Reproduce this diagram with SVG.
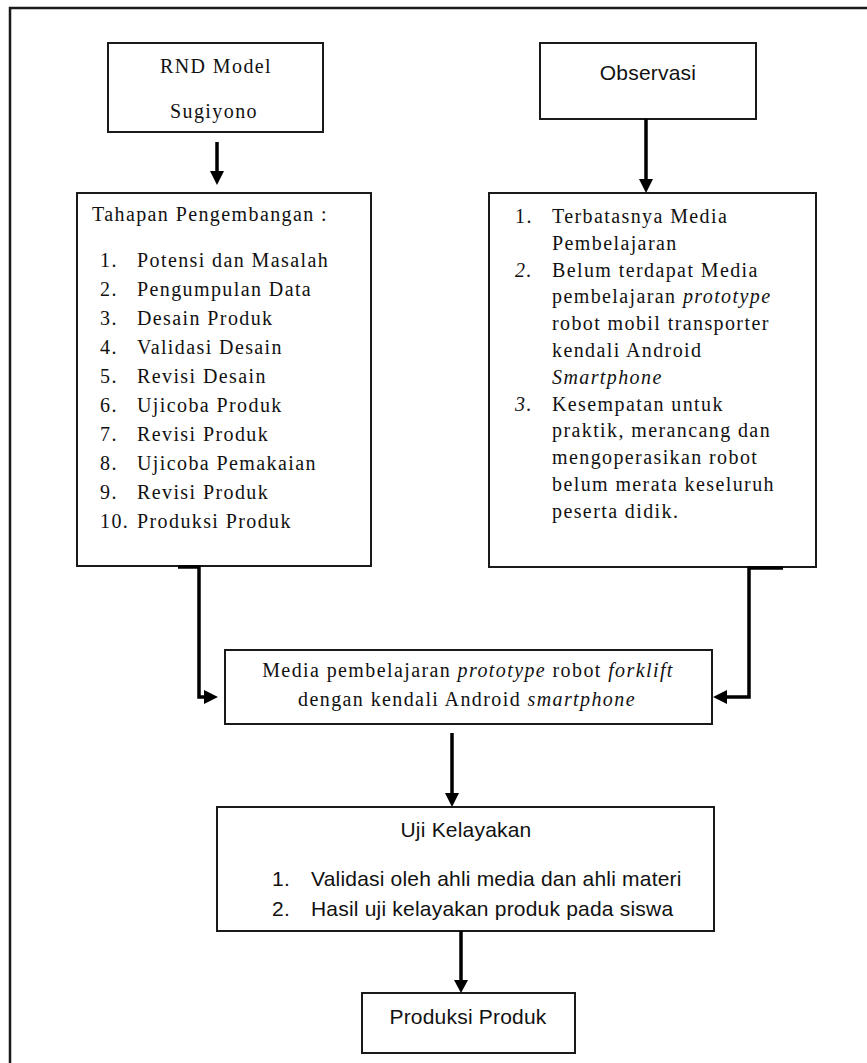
<svg xmlns="http://www.w3.org/2000/svg" width="867" height="1063" viewBox="0 0 867 1063">
<style>
.box{fill:#fff;stroke:#1a1a1a;stroke-width:2}
.frame{fill:none;stroke:#1a1a1a;stroke-width:2.5}
.ser{font-family:"Liberation Serif","Times New Roman",serif;font-size:20px;letter-spacing:1.4px;fill:#111}
.san{font-family:"Liberation Sans",Arial,sans-serif;font-size:21px;letter-spacing:0.2px;fill:#111}
.mid{text-anchor:middle}
.it{font-style:italic}
.ln{fill:none;stroke:#000;stroke-width:3.5}
.ah{fill:#000}
</style>
<path class="frame" d="M10,1063 V8 H867"/>
<g id="rnd">
<rect class="box" x="108" y="43" width="215" height="89"/>
<text class="ser mid" x="216" y="73">RND Model</text>
<text class="ser mid" x="214" y="118">Sugiyono</text>
</g>
<g id="observasi">
<rect class="box" x="540" y="43" width="216" height="76"/>
<text class="san mid" x="648" y="80">Observasi</text>
</g>
<g id="tahapan">
<rect class="box" x="77" y="193" width="294" height="373"/>
<text class="ser" x="92" y="221">Tahapan Pengembangan :</text>
<text class="ser" x="100" y="267">1.</text><text class="ser" x="137" y="267">Potensi dan Masalah</text>
<text class="ser" x="100" y="296">2.</text><text class="ser" x="137" y="296">Pengumpulan Data</text>
<text class="ser" x="100" y="325">3.</text><text class="ser" x="137" y="325">Desain Produk</text>
<text class="ser" x="100" y="354">4.</text><text class="ser" x="137" y="354">Validasi Desain</text>
<text class="ser" x="100" y="383">5.</text><text class="ser" x="137" y="383">Revisi Desain</text>
<text class="ser" x="100" y="412">6.</text><text class="ser" x="137" y="412">Ujicoba Produk</text>
<text class="ser" x="100" y="441">7.</text><text class="ser" x="137" y="441">Revisi Produk</text>
<text class="ser" x="100" y="470">8.</text><text class="ser" x="137" y="470">Ujicoba Pemakaian</text>
<text class="ser" x="100" y="499">9.</text><text class="ser" x="137" y="499">Revisi Produk</text>
<text class="ser" x="100" y="528">10.</text><text class="ser" x="137" y="528">Produksi Produk</text>
</g>
<g id="masalah">
<rect class="box" x="489" y="193" width="327" height="374"/>
<text class="ser" x="515" y="223">1.</text><text class="ser" x="552" y="223">Terbatasnya Media</text>
<text class="ser" x="552" y="250">Pembelajaran</text>
<text class="ser it" x="515" y="277">2.</text><text class="ser" x="552" y="277">Belum terdapat Media</text>
<text class="ser" x="552" y="303">pembelajaran <tspan class="it">prototype</tspan></text>
<text class="ser" x="552" y="330">robot mobil transporter</text>
<text class="ser" x="552" y="357">kendali Android</text>
<text class="ser it" x="552" y="384">Smartphone</text>
<text class="ser it" x="515" y="411">3.</text><text class="ser" x="552" y="411">Kesempatan untuk</text>
<text class="ser" x="552" y="437">praktik, merancang dan</text>
<text class="ser" x="552" y="464">mengoperasikan robot</text>
<text class="ser" x="552" y="491">belum merata keseluruh</text>
<text class="ser" x="552" y="518">peserta didik.</text>
</g>
<g id="media">
<rect class="box" x="225" y="650" width="487" height="74"/>
<text class="ser mid" x="468" y="677">Media pembelajaran <tspan class="it">prototype</tspan> robot <tspan class="it">forklift</tspan></text>
<text class="ser mid" x="467" y="706">dengan kendali Android <tspan class="it">smartphone</tspan></text>
</g>
<g id="uji">
<rect class="box" x="217" y="807" width="497" height="124"/>
<text class="san mid" x="466" y="837">Uji Kelayakan</text>
<text class="san" x="272" y="886">1.</text><text class="san" x="311" y="886">Validasi oleh ahli media dan ahli materi</text>
<text class="san" x="272" y="916">2.</text><text class="san" x="311" y="916">Hasil uji kelayakan produk pada siswa</text>
</g>
<g id="produksi">
<rect class="box" x="362" y="993" width="213" height="60"/>
<text class="san mid" x="468" y="1024">Produksi Produk</text>
</g>
<g id="connectors">
<path class="ln" d="M217,142 V173"/><polygon class="ah" points="210,171 224,171 217,185"/>
<path class="ln" d="M646,119 V181"/><polygon class="ah" points="639,179 653,179 646,193"/>
<path class="ln" d="M178,567 H199 V697 H206"/><polygon class="ah" points="204,690 204,704 218,697"/>
<path class="ln" d="M783,568 H749 V697 H725"/><polygon class="ah" points="727,690 727,704 713,697"/>
<path class="ln" d="M452,733 V795"/><polygon class="ah" points="445,793 459,793 452,807"/>
<path class="ln" d="M461,931 V982"/><polygon class="ah" points="454,980 468,980 461,993"/>
</g>
</svg>
